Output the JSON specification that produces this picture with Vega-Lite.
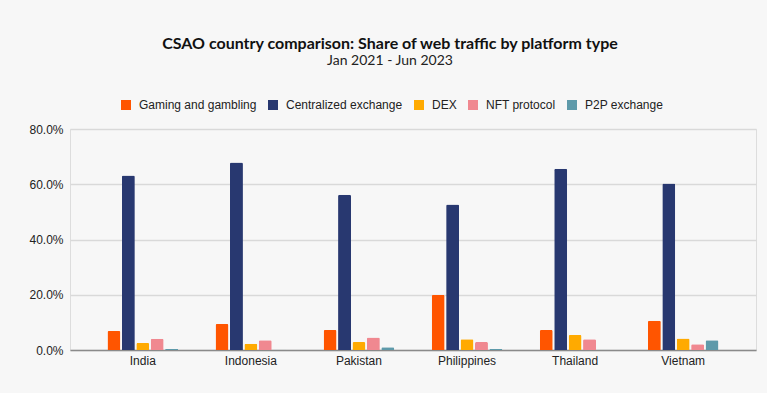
{
  "$schema": "https://vega.github.io/schema/vega-lite/v6.json",
  "width": 686,
  "height": 221,
  "autosize": {"type": "none"},
  "padding": {"left": 70, "top": 129, "right": 11, "bottom": 43},
  "background": "#F7F7F7",
  "title": {
    "text": "CSAO country comparison: Share of web traffic by platform type",
    "subtitle": "Jan 2021 - Jun 2023",
    "font": "Lato",
    "fontSize": 16,
    "fontWeight": "bold",
    "color": "#111111",
    "subtitleFont": "Lato",
    "subtitleFontSize": 14,
    "subtitleColor": "#222222",
    "subtitlePadding": 2,
    "anchor": "middle",
    "dx": -23,
    "offset": 31
  },
  "data": {
    "values": [
      {"country": "India", "type": "Gaming and gambling", "share": 0.069},
      {"country": "India", "type": "Centralized exchange", "share": 0.632},
      {"country": "India", "type": "DEX", "share": 0.025},
      {"country": "India", "type": "NFT protocol", "share": 0.041},
      {"country": "India", "type": "P2P exchange", "share": 0.004},
      {"country": "Indonesia", "type": "Gaming and gambling", "share": 0.094},
      {"country": "Indonesia", "type": "Centralized exchange", "share": 0.679},
      {"country": "Indonesia", "type": "DEX", "share": 0.023},
      {"country": "Indonesia", "type": "NFT protocol", "share": 0.035},
      {"country": "Indonesia", "type": "P2P exchange", "share": 0.001},
      {"country": "Pakistan", "type": "Gaming and gambling", "share": 0.072},
      {"country": "Pakistan", "type": "Centralized exchange", "share": 0.562},
      {"country": "Pakistan", "type": "DEX", "share": 0.029},
      {"country": "Pakistan", "type": "NFT protocol", "share": 0.045},
      {"country": "Pakistan", "type": "P2P exchange", "share": 0.010},
      {"country": "Philippines", "type": "Gaming and gambling", "share": 0.199},
      {"country": "Philippines", "type": "Centralized exchange", "share": 0.527},
      {"country": "Philippines", "type": "DEX", "share": 0.039},
      {"country": "Philippines", "type": "NFT protocol", "share": 0.029},
      {"country": "Philippines", "type": "P2P exchange", "share": 0.004},
      {"country": "Thailand", "type": "Gaming and gambling", "share": 0.072},
      {"country": "Thailand", "type": "Centralized exchange", "share": 0.656},
      {"country": "Thailand", "type": "DEX", "share": 0.054},
      {"country": "Thailand", "type": "NFT protocol", "share": 0.039},
      {"country": "Thailand", "type": "P2P exchange", "share": 0.001},
      {"country": "Vietnam", "type": "Gaming and gambling", "share": 0.106},
      {"country": "Vietnam", "type": "Centralized exchange", "share": 0.603},
      {"country": "Vietnam", "type": "DEX", "share": 0.042},
      {"country": "Vietnam", "type": "NFT protocol", "share": 0.021},
      {"country": "Vietnam", "type": "P2P exchange", "share": 0.035}
    ]
  },
  "mark": {"type": "bar", "cornerRadiusTopLeft": 1.5, "cornerRadiusTopRight": 1.5},
  "encoding": {
    "x": {
      "field": "country",
      "type": "nominal",
      "sort": null,
      "scale": {"paddingInner": 0.333, "paddingOuter": 0.34},
      "axis": {
        "title": null,
        "labelAngle": 0,
        "labelFont": "Liberation Sans",
        "labelFontSize": 12,
        "labelColor": "#222222",
        "labelPadding": 5,
        "ticks": false,
        "domain": true,
        "domainColor": "#8a8a8a",
        "domainWidth": 1.5,
        "grid": false
      }
    },
    "xOffset": {
      "field": "type",
      "type": "nominal",
      "sort": ["Gaming and gambling", "Centralized exchange", "DEX", "NFT protocol", "P2P exchange"],
      "scale": {"paddingInner": 0.1, "paddingOuter": 0.05}
    },
    "y": {
      "field": "share",
      "type": "quantitative",
      "scale": {"domain": [0, 0.8], "nice": false},
      "axis": {
        "title": null,
        "format": ".1%",
        "values": [0, 0.2, 0.4, 0.6, 0.8],
        "labelFont": "Liberation Sans",
        "labelFontSize": 12,
        "labelColor": "#222222",
        "labelPadding": 7,
        "ticks": false,
        "domain": false,
        "grid": true,
        "gridColor": "#d9d9d9",
        "gridWidth": 1.5
      }
    },
    "color": {
      "field": "type",
      "type": "nominal",
      "sort": ["Gaming and gambling", "Centralized exchange", "DEX", "NFT protocol", "P2P exchange"],
      "scale": {
        "domain": ["Gaming and gambling", "Centralized exchange", "DEX", "NFT protocol", "P2P exchange"],
        "range": ["#FF5500", "#283870", "#FFAA00", "#F08890", "#5E9AAA"]
      },
      "legend": {
        "title": null,
        "orient": "none",
        "direction": "horizontal",
        "legendX": 50,
        "legendY": -30,
        "symbolType": "square",
        "symbolSize": 100,
        "symbolStrokeWidth": 0,
        "labelFont": "Liberation Sans",
        "labelFontSize": 12,
        "labelColor": "#222222",
        "columnPadding": 10,
        "labelOffset": 7
      }
    }
  }
}
